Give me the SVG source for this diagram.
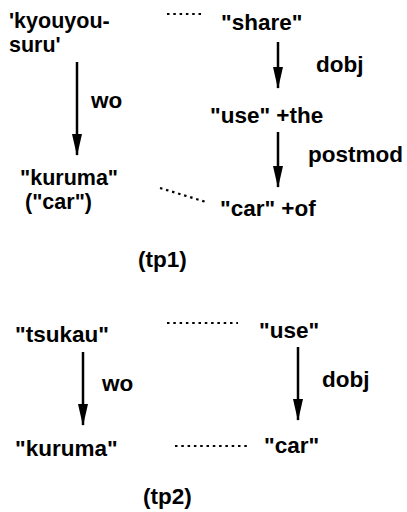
<svg xmlns="http://www.w3.org/2000/svg" width="407" height="512" viewBox="0 0 407 512">
<defs>
<style>
text{font-family:"Liberation Sans",Arial,sans-serif;font-weight:bold;font-size:22.5px;fill:#000}
.two{font-size:21.5px}
.edge{stroke:#000;stroke-width:2.5;fill:none}
.dot{stroke:#000;stroke-width:2.2;fill:none;stroke-dasharray:2.5 3.8}
</style>
<marker id="ah" viewBox="0 0 22 10" refX="21" refY="5" markerWidth="22" markerHeight="10" markerUnits="userSpaceOnUse" orient="auto">
<path d="M0,0 L22,5 L0,10 Z" fill="#000"/>
</marker>
</defs>
<rect width="407" height="512" fill="#fff"/>
<g id="connectors">
<line class="edge" x1="77" y1="62" x2="77" y2="155" marker-end="url(#ah)"/>
<line class="edge" x1="278" y1="42" x2="278" y2="88" marker-end="url(#ah)"/>
<line class="edge" x1="278" y1="132" x2="278" y2="187" marker-end="url(#ah)"/>
<line class="edge" x1="83" y1="352" x2="83" y2="425" marker-end="url(#ah)"/>
<line class="edge" x1="298" y1="347" x2="298" y2="420" marker-end="url(#ah)"/>
<line class="dot" x1="167" y1="14" x2="204" y2="14"/>
<line class="dot" x1="160" y1="188" x2="206" y2="202"/>
<line class="dot" x1="167" y1="323" x2="238" y2="323"/>
<line class="dot" x1="175" y1="446" x2="250" y2="446"/>
</g>
<g id="kyouyousuru"><text class="two" x="9" y="28">'kyouyou-</text><text class="two" x="9" y="52">suru'</text></g>
<g id="share"><text x="221" y="30">"share"</text></g>
<g id="use-the"><text x="210" y="123">"use" +the</text></g>
<g id="kuruma1"><text class="two" x="20" y="185">"kuruma"</text><text class="two" x="25" y="209">("car")</text></g>
<g id="car-of"><text x="220" y="216">"car" +of</text></g>
<g id="lbl-wo1"><text x="91" y="108">wo</text></g>
<g id="lbl-dobj1"><text x="316" y="72">dobj</text></g>
<g id="lbl-postmod"><text x="308" y="162">postmod</text></g>
<g id="tp1"><text x="138" y="267">(tp1)</text></g>
<g id="tsukau"><text x="15" y="342">"tsukau"</text></g>
<g id="use2"><text x="259" y="338">"use"</text></g>
<g id="kuruma2"><text x="15" y="456">"kuruma"</text></g>
<g id="car2"><text x="264" y="453">"car"</text></g>
<g id="lbl-wo2"><text x="102" y="391">wo</text></g>
<g id="lbl-dobj2"><text x="322" y="387">dobj</text></g>
<g id="tp2"><text x="143" y="504">(tp2)</text></g>
</svg>
